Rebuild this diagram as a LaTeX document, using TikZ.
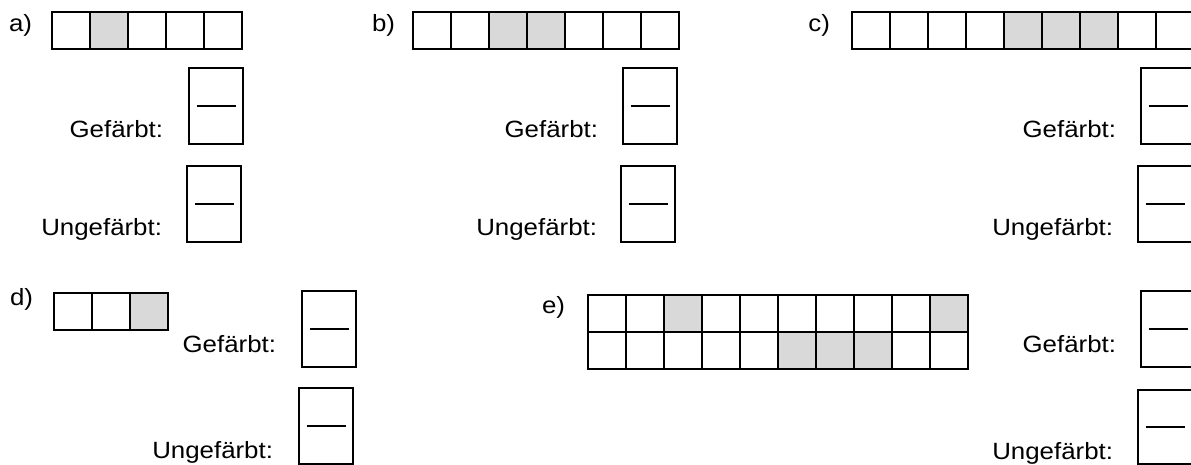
\documentclass[tikz,border=0pt]{standalone}
\usepackage{fontspec}
\setmainfont[FakeStretch=1.1]{Liberation Sans}
\definecolor{cellgray}{RGB}{217,217,217}
\newcommand{\cellrow}[4]{%
  \foreach \i in {#4} \fill[cellgray] ({#1+38*(\i-1)},#2) rectangle ++(38,37);
  \foreach \i in {1,...,#3} \draw[gl] ({#1+38*(\i-1)},#2) rectangle ++(38,37);
}
\tikzset{
  gl/.style={line width=2pt, line join=miter},
  lbl/.style={inner sep=0pt, outer sep=0pt, anchor=base east, font=\fontsize{23.5}{27}\selectfont},
  fbox/.style={draw, line width=2pt, inner sep=0pt, outer sep=0pt, minimum width=54pt, minimum height=76pt},
}
\newcommand{\fracline}[1]{\draw[gl] ([xshift=7.5pt]#1.west) -- ([xshift=-7.5pt]#1.east);}
\begin{document}
\begin{tikzpicture}[x=1pt,y=-1pt]
\useasboundingbox (0,0) rectangle (1191,465);
\clip (0,0) rectangle (1191,465);
% labels
\node[lbl] (la) at (32,32) {a)};
\node[lbl] (lb) at (395,32) {b)};
\node[lbl] (lc) at (830,32) {c)};
\node[lbl] (ld) at (33,305) {d)};
\node[lbl] (le) at (565,313) {e)};
% grids
\cellrow{52}{12}{5}{2}
\cellrow{413}{12}{7}{3,4}
\cellrow{852}{12}{9}{5,6,7}
\cellrow{54}{293}{3}{3}
\cellrow{588}{295}{10}{3,10}
\cellrow{588}{332}{10}{6,7,8}
% texts
\node[lbl] (ga) at (163,138) {Gefärbt:};
\node[lbl] (ua) at (162,236) {Ungefärbt:};
\node[lbl] (gb) at (598,138) {Gefärbt:};
\node[lbl] (ub) at (597,236) {Ungefärbt:};
\node[lbl] (gc) at (1116,138) {Gefärbt:};
\node[lbl] (uc) at (1113,236) {Ungefärbt:};
\node[lbl] (gd) at (276,352) {Gefärbt:};
\node[lbl] (ud) at (273,458) {Ungefärbt:};
\node[lbl] (ge) at (1116,352) {Gefärbt:};
\node[lbl] (ue) at (1113,459) {Ungefärbt:};
% answer boxes
\node[fbox] (bga) at (216,106) {}; \fracline{bga}
\node[fbox] (bua) at (214,204) {}; \fracline{bua}
\node[fbox] (bgb) at (650,106) {}; \fracline{bgb}
\node[fbox] (bub) at (648,204) {}; \fracline{bub}
\node[fbox] (bgc) at (1168,106) {}; \fracline{bgc}
\node[fbox] (buc) at (1165,204) {}; \fracline{buc}
\node[fbox] (bgd) at (329,329) {}; \fracline{bgd}
\node[fbox] (bud) at (326,426) {}; \fracline{bud}
\node[fbox] (bge) at (1168,329) {}; \fracline{bge}
\node[fbox, minimum height=74pt] (bue) at (1165,427) {}; \fracline{bue}
\end{tikzpicture}
\end{document}
